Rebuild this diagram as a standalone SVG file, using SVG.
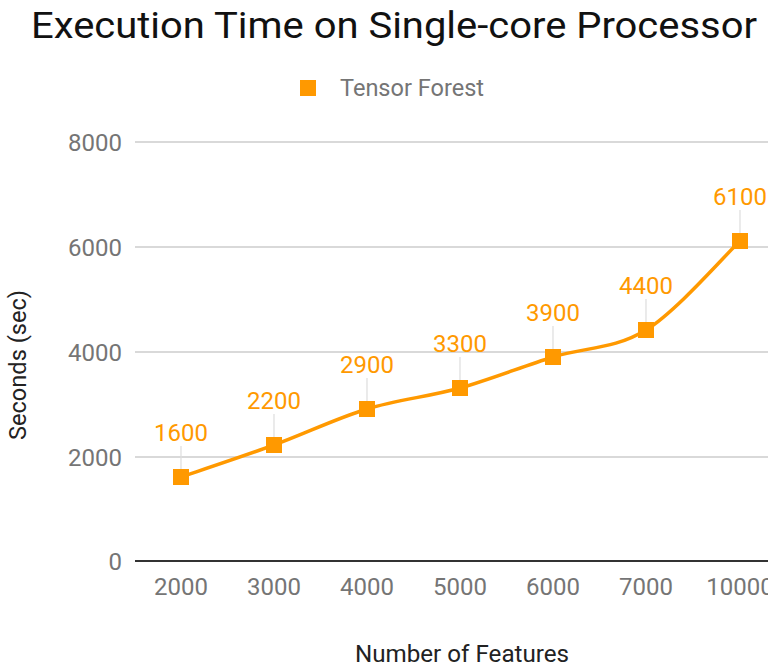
<svg xmlns="http://www.w3.org/2000/svg" width="768" height="668" viewBox="0 0 768 668">
  <style>
    text { font-family: Roboto, "Liberation Sans", sans-serif; }
    .title { font-size: 37px; fill: #111; }
    .legend { font-size: 23px; fill: #757575; }
    .tick { font-size: 24px; fill: #757575; }
    .axis-title { font-size: 24px; fill: #222; }
    .value { font-size: 24px; fill: #ff9900; text-anchor: middle; }
    .grid { stroke: #cccccc; stroke-width: 1.5; }
    .leader { stroke: #dddddd; stroke-width: 1.2; }
    .marker { fill: #ff9900; }
  </style>

  <rect width="768" height="668" fill="#ffffff"/>

  <text class="title" x="31" y="38" textLength="726" lengthAdjust="spacingAndGlyphs">Execution Time on Single-core Processor</text>

  <!-- legend -->
  <g id="legend">
    <rect class="marker" x="300" y="80" width="16" height="16"/>
    <text class="legend" x="340" y="96" textLength="144" lengthAdjust="spacingAndGlyphs">Tensor Forest</text>
  </g>

  <!-- gridlines and baseline -->
  <g id="grid">
    <line class="grid" x1="135" y1="142" x2="768" y2="142"/>
    <line class="grid" x1="135" y1="247" x2="768" y2="247"/>
    <line class="grid" x1="135" y1="352" x2="768" y2="352"/>
    <line class="grid" x1="135" y1="457" x2="768" y2="457"/>
    <line x1="135" y1="561" x2="768" y2="561" stroke="#333333" stroke-width="2"/>
  </g>

  <!-- y axis ticks -->
  <g id="y-axis" class="tick" text-anchor="end">
    <text x="122" y="151">8000</text>
    <text x="122" y="256">6000</text>
    <text x="122" y="361">4000</text>
    <text x="122" y="466">2000</text>
    <text x="122" y="570">0</text>
  </g>
  <text class="axis-title" transform="translate(26,365) rotate(-90)" text-anchor="middle" textLength="150" lengthAdjust="spacingAndGlyphs">Seconds (sec)</text>

  <!-- x axis ticks -->
  <g id="x-axis" class="tick" text-anchor="middle">
    <text x="181" y="595">2000</text>
    <text x="274" y="595">3000</text>
    <text x="367" y="595">4000</text>
    <text x="460" y="595">5000</text>
    <text x="553" y="595">6000</text>
    <text x="646" y="595">7000</text>
    <text x="740" y="595">10000</text>
  </g>
  <text class="axis-title" x="462" y="662" text-anchor="middle" textLength="214" lengthAdjust="spacingAndGlyphs">Number of Features</text>

  <!-- label leader lines -->
  <g id="leaders">
    <line class="leader" x1="181" y1="446" x2="181" y2="469"/>
    <line class="leader" x1="274" y1="414" x2="274" y2="437"/>
    <line class="leader" x1="367" y1="378" x2="367" y2="401"/>
    <line class="leader" x1="460" y1="357" x2="460" y2="380"/>
    <line class="leader" x1="553" y1="326" x2="553" y2="349"/>
    <line class="leader" x1="646" y1="299" x2="646" y2="322"/>
    <line class="leader" x1="740" y1="210" x2="740" y2="233"/>
  </g>

  <!-- series line -->
  <g id="connectors">
    <path d="M181,477 C196.5,471.7 243,456.3 274,445 C305,433.7 336,418.5 367,409 C398,399.5 429,396.7 460,388 C491,379.3 522,366.7 553,357 C584,347.3 614.8,349.3 646,330 C677.2,310.7 724.3,255.8 740,241" fill="none" stroke="#ff9900" stroke-width="3.5"/>
  </g>

  <!-- data points -->
  <g id="p2000"><rect class="marker" x="173" y="469" width="16" height="16"/><text class="value" x="181" y="441">1600</text></g>
  <g id="p3000"><rect class="marker" x="266" y="437" width="16" height="16"/><text class="value" x="274" y="409">2200</text></g>
  <g id="p4000"><rect class="marker" x="359" y="401" width="16" height="16"/><text class="value" x="367" y="373">2900</text></g>
  <g id="p5000"><rect class="marker" x="452" y="380" width="16" height="16"/><text class="value" x="460" y="352">3300</text></g>
  <g id="p6000"><rect class="marker" x="545" y="349" width="16" height="16"/><text class="value" x="553" y="321">3900</text></g>
  <g id="p7000"><rect class="marker" x="638" y="322" width="16" height="16"/><text class="value" x="646" y="294">4400</text></g>
  <g id="p10000"><rect class="marker" x="732" y="233" width="16" height="16"/><text class="value" x="740" y="205">6100</text></g>
</svg>
